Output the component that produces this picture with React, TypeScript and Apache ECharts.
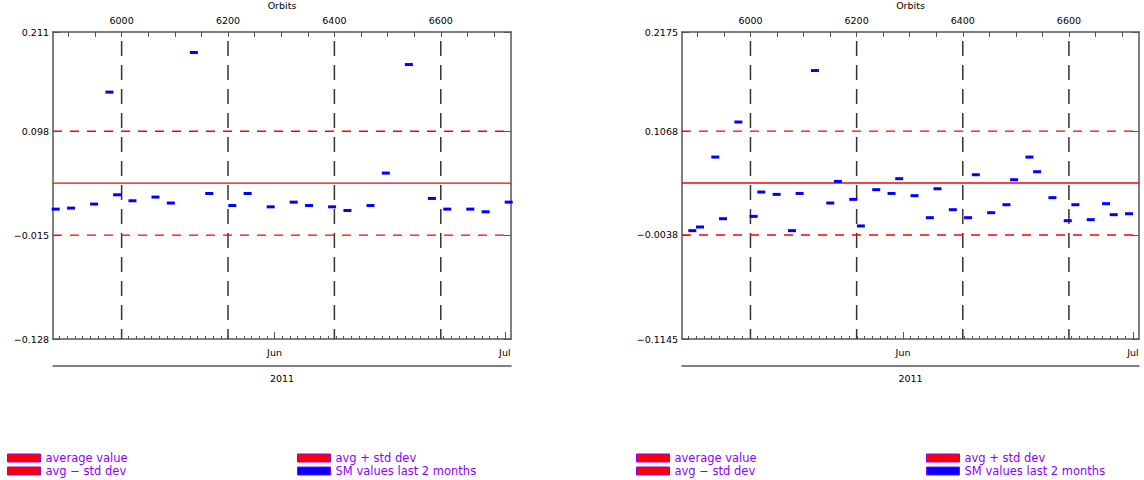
import React, { useEffect, useRef } from 'react';
import * as echarts from 'echarts';

// ---------- data ----------
const YEAR = '2011';
const MONTH_STARTS = ['2011-06-01', '2011-07-01'];
const MONTH_NAMES = ['Jun', 'Jul'];
const ORBIT_LABELS = [6000, 6200, 6400, 6600];
const ORBIT_MIN = 5871;
const ORBIT_MAX = 6732;
const DAY_MIN = -28.85; // days relative to 2011-06-01
const DAY_MAX = 30.8;

// left panel
const LEFT_Y_MIN = -0.128;
const LEFT_Y_MAX = 0.206; // value at the top edge of the plot box
const LEFT_Y_LABELS = ['\u22120.128', '\u22120.015', '0.098', '0.211'];
const LEFT_AVG = 0.0415;
const LEFT_STD = 0.0565;
const LEFT_DATES = [
  '2011-05-03', '2011-05-05', '2011-05-08', '2011-05-10', '2011-05-11', '2011-05-13',
  '2011-05-16', '2011-05-18', '2011-05-21', '2011-05-23', '2011-05-26', '2011-05-28',
  '2011-05-31', '2011-06-03', '2011-06-05', '2011-06-08', '2011-06-10', '2011-06-13',
  '2011-06-15', '2011-06-18', '2011-06-21', '2011-06-23', '2011-06-26', '2011-06-28',
  '2011-07-01',
];
const LEFT_VALUES = [
  0.0133, 0.0144, 0.0188, 0.1406, 0.0289, 0.0224,
  0.0264, 0.0199, 0.1837, 0.0303, 0.0172, 0.0303,
  0.0158, 0.0209, 0.0172, 0.0158, 0.0118, 0.0172,
  0.0525, 0.1706, 0.0249, 0.0133, 0.0133, 0.0104,
  0.0209,
];

// right panel
const RIGHT_Y_MIN = -0.1145;
const RIGHT_Y_MAX = 0.2122; // value at the top edge of the plot box
const RIGHT_Y_LABELS = ['\u22120.1145', '\u22120.0038', '0.1068', '0.2175'];
const RIGHT_AVG = 0.0515;
const RIGHT_STD = 0.0553;
const RIGHT_DATES = [
  '2011-05-04', '2011-05-05', '2011-05-07', '2011-05-08', '2011-05-10', '2011-05-12',
  '2011-05-13', '2011-05-15', '2011-05-17', '2011-05-18', '2011-05-20', '2011-05-22',
  '2011-05-23', '2011-05-25', '2011-05-26', '2011-05-28', '2011-05-30', '2011-05-31',
  '2011-06-02', '2011-06-04', '2011-06-05', '2011-06-07', '2011-06-09', '2011-06-10',
  '2011-06-12', '2011-06-14', '2011-06-15', '2011-06-17', '2011-06-18', '2011-06-20',
  '2011-06-22', '2011-06-23', '2011-06-25', '2011-06-27', '2011-06-28', '2011-06-30',
];
const RIGHT_VALUES = [
  0.0008, 0.0047, 0.0791, 0.0135, 0.1164, 0.016,
  0.0419, 0.0394, 0.0008, 0.0404, 0.1712, 0.0302,
  0.0532, 0.0341, 0.0058, 0.0444, 0.0404, 0.0561,
  0.038, 0.0146, 0.0454, 0.0231, 0.0146, 0.0603,
  0.0199, 0.0284, 0.055, 0.0791, 0.0635, 0.0359,
  0.0114, 0.0284, 0.0125, 0.0295, 0.0178, 0.0188,
];

const NAME_AVG = 'average value';
const NAME_PLUS = 'avg + std dev';
const NAME_MINUS = 'avg \u2212 std dev';
const NAME_SM = 'SM values last 2 months';

// ---------- helpers ----------
const REF = Date.UTC(2011, 5, 1);
function dayOf(s: string, noon = true): number {
  const [y, m, d] = s.split('-').map(Number);
  return (Date.UTC(y, m - 1, d) - REF) / 864e5 + (noon ? 0.5 : 0);
}

const FONT = { fontFamily: 'DejaVu Sans', fontSize: 9.5, color: '#000' };
const AXIS_COLOR = '#555';
const LEGEND_COLOR = '#8c00ff';

function buildChart(k: number, c: any) {
  const xi = k * 4;
  const yi = k * 2;
  const dayTicks: number[] = [];
  for (let d = Math.ceil(DAY_MIN); d <= Math.floor(DAY_MAX); d++) dayTicks.push(d);
  const monthDays = MONTH_STARTS.map((s) => dayOf(s, false));
  const orbitTicks: number[] = [];
  for (let o = Math.ceil(ORBIT_MIN / 50) * 50; o <= ORBIT_MAX; o += 50) orbitTicks.push(o);
  const mkLine = () => ({ show: true, onZero: false, lineStyle: { color: AXIS_COLOR, width: 1.5 } });
  const yMin = c.yMin;
  const yMax = c.yMax;
  const yTicks = [yMin, c.avg - c.std, c.avg + c.std, yMax];

  const grid = {
    left: c.left, top: 32, width: c.width, height: 307, show: false,
    containLabel: false, outerBoundsMode: 'none',
  };

  const xAxes = [
    {
      type: 'value', gridIndex: k, position: 'bottom', min: DAY_MIN, max: DAY_MAX,
      axisLine: mkLine(), axisTick: { show: true, inside: true, length: 3, customValues: dayTicks, lineStyle: { color: AXIS_COLOR } },
      axisLabel: { show: false }, splitLine: { show: false },
    },
    {
      type: 'value', gridIndex: k, position: 'bottom', min: DAY_MIN, max: DAY_MAX,
      axisLine: { show: false, onZero: false },
      axisTick: { show: true, inside: true, length: 7, customValues: monthDays, lineStyle: { color: AXIS_COLOR } },
      axisLabel: {
        show: true, customValues: monthDays, margin: 8, ...FONT,
        formatter: (v: number) => {
          const i = monthDays.findIndex((m) => Math.abs(m - v) < 1e-6);
          return i >= 0 ? MONTH_NAMES[i] : '';
        },
      },
      splitLine: { show: false },
    },
    {
      type: 'value', gridIndex: k, position: 'bottom', offset: 27, min: DAY_MIN, max: DAY_MAX,
      axisLine: mkLine(), axisTick: { show: false }, axisLabel: { show: false }, splitLine: { show: false },
      name: YEAR, nameLocation: 'middle', nameGap: 7, nameTextStyle: { ...FONT, verticalAlign: 'top' },
    },
    {
      type: 'value', gridIndex: k, position: 'top', min: ORBIT_MIN, max: ORBIT_MAX,
      axisLine: mkLine(), axisTick: { show: true, inside: true, length: 5, customValues: orbitTicks, lineStyle: { color: AXIS_COLOR } },
      axisLabel: { show: true, customValues: ORBIT_LABELS, margin: 7, ...FONT, formatter: (v: number) => String(v) },
      splitLine: { show: false },
      name: 'Orbits', nameLocation: 'middle', nameGap: 22, nameTextStyle: FONT,
    },
  ];

  const yAxes = [
    {
      type: 'value', gridIndex: k, position: 'left', min: yMin, max: yMax,
      axisLine: mkLine(), axisTick: { show: true, inside: true, length: 7, customValues: yTicks, lineStyle: { color: AXIS_COLOR } },
      axisLabel: {
        show: true, customValues: yTicks, margin: 4, ...FONT, showMinLabel: true, showMaxLabel: true,
        formatter: (v: number) => {
          const i = yTicks.findIndex((t) => Math.abs(t - v) < 1e-9);
          return i >= 0 ? c.yLabels[i] : '';
        },
      },
      splitLine: { show: false },
    },
    {
      type: 'value', gridIndex: k, position: 'right', min: yMin, max: yMax,
      axisLine: mkLine(), axisTick: { show: true, inside: true, length: 7, customValues: yTicks, lineStyle: { color: AXIS_COLOR } },
      axisLabel: { show: false }, splitLine: { show: false },
    },
  ];

  const series: any[] = [];
  ORBIT_LABELS.forEach((o) => {
    series.push({
      type: 'line', xAxisIndex: xi + 3, yAxisIndex: yi, silent: true, symbol: 'none',
      data: [[o, yMax], [o, yMin]],
      lineStyle: { color: '#333', width: 1.5, type: [15, 9], dashOffset: 15 }, z: 1,
    });
  });
  series.push({
    type: 'line', name: NAME_AVG, xAxisIndex: xi, yAxisIndex: yi, symbol: 'none', silent: true,
    data: [[DAY_MIN, c.avg], [DAY_MAX, c.avg]],
    lineStyle: { color: '#ff0000', width: 1.3, type: 'solid', opacity: 1 },
    itemStyle: { color: '#ff0000' }, z: 3,
  });
  series.push({
    type: 'line', name: NAME_PLUS, xAxisIndex: xi, yAxisIndex: yi, symbol: 'none', silent: true,
    data: [[DAY_MIN, c.avg + c.std], [DAY_MAX, c.avg + c.std]],
    lineStyle: { color: '#ff0000', width: 1.3, type: [9, 8] }, itemStyle: { color: '#ff0000' }, z: 2,
  });
  series.push({
    type: 'line', name: NAME_MINUS, xAxisIndex: xi, yAxisIndex: yi, symbol: 'none', silent: true,
    data: [[DAY_MIN, c.avg - c.std], [DAY_MAX, c.avg - c.std]],
    lineStyle: { color: '#ff0000', width: 1.3, type: [9, 8] }, itemStyle: { color: '#ff0000' }, z: 2,
  });
  series.push({
    type: 'scatter', name: NAME_SM, xAxisIndex: xi, yAxisIndex: yi, silent: true,
    symbol: 'rect', symbolSize: [8, 3],
    data: c.dates.map((d: string, j: number) => [dayOf(d), c.values[j]]),
    itemStyle: { color: '#0000ff', opacity: 1 }, z: 5,
  });

  const legendBase = {
    orient: 'vertical', top: 452, padding: 0, itemWidth: 33, itemHeight: 8, itemGap: 1,
    icon: 'rect', selectedMode: false,
    itemStyle: { borderColor: LEGEND_COLOR, borderWidth: 1, opacity: 1 },
    textStyle: { color: LEGEND_COLOR, fontFamily: 'DejaVu Sans', fontSize: 11.5, padding: 0 },
  };
  const legends = [
    { ...legendBase, left: c.legendLeft[0], data: [NAME_AVG, NAME_MINUS] },
    { ...legendBase, left: c.legendLeft[1], data: [NAME_PLUS, NAME_SM] },
  ];

  return { grid, xAxes, yAxes, series, legends };
}

export default function App() {
  const ref = useRef<HTMLDivElement>(null);
  useEffect(() => {
    if (!ref.current) return;
    const chart = echarts.init(ref.current, undefined, { renderer: 'svg' });
    const a = buildChart(0, {
      left: 53, width: 458, yMin: LEFT_Y_MIN, yMax: LEFT_Y_MAX, yLabels: LEFT_Y_LABELS,
      avg: LEFT_AVG, std: LEFT_STD, dates: LEFT_DATES, values: LEFT_VALUES, legendLeft: [7, 297],
    });
    const b = buildChart(1, {
      left: 682, width: 457, yMin: RIGHT_Y_MIN, yMax: RIGHT_Y_MAX, yLabels: RIGHT_Y_LABELS,
      avg: RIGHT_AVG, std: RIGHT_STD, dates: RIGHT_DATES, values: RIGHT_VALUES, legendLeft: [636, 926],
    });
    chart.setOption({
      animation: false,
      backgroundColor: '#fff',
      grid: [a.grid, b.grid],
      xAxis: [...a.xAxes, ...b.xAxes],
      yAxis: [...a.yAxes, ...b.yAxes],
      legend: [...a.legends, ...b.legends],
      series: [...a.series, ...b.series],
    });
    return () => chart.dispose();
  }, []);
  return (
    <div
      ref={ref}
      style={{ position: 'absolute', left: 0, top: 0, width: 1144, height: 480 }}
    />
  );
}
